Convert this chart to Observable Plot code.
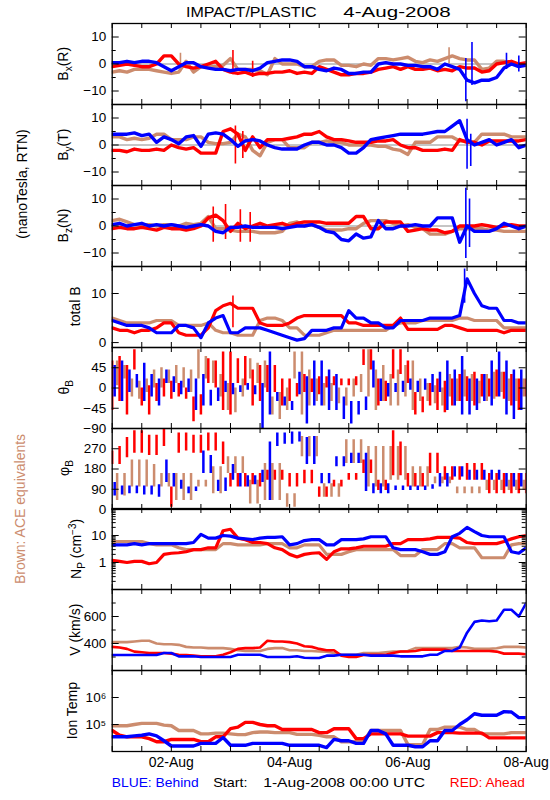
<!DOCTYPE html>
<html><head><meta charset="utf-8">
<script src="https://cdn.jsdelivr.net/npm/d3@7"></script>
<script src="https://cdn.jsdelivr.net/npm/@observablehq/plot@0.6"></script>
<style>
html,body{margin:0;padding:0;background:#fff;}
#root{position:relative;width:550px;height:800px;overflow:hidden;}
.panel{position:absolute;left:0;}
</style></head><body><div id="root"></div>
<script>
// ---- time grid: hours since 1-Aug-2008 00:00 UTC, every 3 h ----
const hours = d3.range(0, 169, 3);

// ---- Bx (R), nT ----
const bxBlue = [0.5,0.5,1,0.5,1,1,0.5,-1, -2.5,-1,0.5,0.5,-1,-1.5,-2,-2, -2.5,-2,-2,-2.5,-1.5,0.5,1,1.5, 1.5,1,-1,-1,-2,-2.5,-1.5,-2, -3.5,-3.5,-3,-3,0,0.5,0,0, -0.5,-0.5,-1,-1,-2,0,-1,-2, -6,-7,-6,-6,-5,-1.5,0,-1, -0.5];
const bxRed = [-1,-0.5,0,-0.5,-1,-1,0,3, 3,0,-1,-1.5,-1,0,1,-2, -3,-3.5,-3,-4,-3.5,-3.5,-3,-3, -2.5,-3.5,-3,-3.5,-1,-2,-3,-4, -4,-3.5,-3.5,-3,-2,-1.5,-1,-2, -1,-2,-2,-1.5,-2.5,-2,-2.5,-1, -1.5,-1.5,-3,-2.5,0,0.5,1,0, 0.5];
const bxBrown = [-3,-2.5,-3,-2,-2,-2,-2.5,-3, -3.5,-3,1,-3,-1,-1,-1,-0.5, 2,-2,-2,-2,-2.5,-4,2,0, 0,0,-1,-1,1,1.5,1.5,-0.5, -0.5,-1,0,-0.5,2,2,1.5,2, 2.5,1,0.5,1.5,1,2,3,2, 1.5,1.5,-2,-1.5,1,1,0,0, -0.5];
const bxSpikeBlue = [[143.5,-14,2],[146,-8,8],[160,-2,4],[165,-3,3]];
const bxSpikeRed = [[49,-4,5],[57,-5,1]];
const bxSpikeBrown = [[27.7,-3,4],[136.7,0,6]];

// ---- By (T), nT ----
const byBlue = [4,4,4,4.5,3.5,4,1,3, 2,0.5,3,3.5,-0.5,4,4.5,4, 2,-0.5,1.5,2,1.5,0,-1,-1.5, -1.5,-1.5,0,1,1,0,0,-1, -3,-3,-1,2,2.5,3,3.5,4, 4,4,4,4.5,5,5,7,9, 2,0,1,2,0,1,2,-1, 0];
const byRed = [-2,-2,-2.5,-1.5,-2,-2,-1.5,-2, 0,-1,-1.5,-1,-3,-3,-3,5, 6,4,-2,3,-1,2,2,2, 2.5,3,4,4,5,3,2,2, 1.5,1,1,1,1.5,1.5,2,0, -1,-1,-2,-2,-2,-1.5,-2,2, 1,1,0,1.5,1.5,1.5,1.5,1.5, 2];
const byBrown = [3,3,2,2.5,2,2.5,4,4, 2,2,2,3,3,1,0.5,0.5, 1,4,3,-2,-4,1,2,2, -1,-1,-1,1,1,1.5,1,1, 0,0,0,0,-0.5,-0.5,-1.5,-2, -3.5,1,1,1,3,3,3,1.5, 1.5,1,4,4,4,4,3,3, 3];
const bySpikeBlue = [[144,-9,9.5],[145.5,-8,4]];
const bySpikeRed = [[50,-7,7],[53,-5,5]];

// ---- Bz (N), nT ----
const bzBlue = [0.5,1,0,0.5,1,0,0.5,0, 0.5,0,-0.5,0,0.5,0,-2,-2.5, -0.5,-0.5,0,-0.5,-0.5,-0.5,-0.5,-1, -0.5,0,0,0.5,-0.5,-2,-2.5,-5, -5.5,-3,-4.5,-4,2,-1,-1,0, 0,0.5,0,0,3,3,3,-6, 0,-2,-2,-2,-1,1,0,-1, 0];
const bzRed = [-1,-0.5,-1,-1,-0.5,-1,-1.5,-0.5, -1,-1,-1.5,-1,0,3,4,2, -2,1,-1,0,1,0,0.5,1, 0,1,1.5,1.5,1.5,1,1,1, 1,3.5,3.5,-1,-1,1.5,1.5,1.5, -2,-1.5,-1,-1.5,-1.5,-2.5,-2,0, 0,0,0.5,0,-0.5,0,0.5,0, 0];
const bzBrown = [2,2.5,1.5,0.5,0.5,0.5,0,0.5, 0.5,0,1,0.5,1,3.5,-1,-1, -1.5,-2,-2,-2,-2.5,-2.5,-2.5,-2, 1,1.5,0,0.5,-0.5,-1.5,-1.5,-1.5, -1,-1,1,2,2,2,1,0, 0.5,-0.5,-1,-3,-3,-3,-2,-1, -1,-1,-1,-1.5,-1.5,-2,-2,-2, -2];
const bzSpikeBlue = [[143.5,-12,14],[145,-8,10]];
const bzSpikeRed = [[41,-6,7],[46,-5,8],[52,-6,6],[56,-6,5]];

// ---- total B, nT ----
const tbBlue = [4.5,4,3.5,3.5,3.5,3,2,2, 2,3.5,3.5,3,1,4,5,5.5, 2,2,3,3,3,2.5,2,1.5, 1,0.5,0.8,2.5,2.5,2.5,3,3, 6.5,5,5,4,4,3,3,4.5, 4.5,4.5,4.5,5,5,5,5,5.5, 13,10,7.5,7,7,4.5,4.5,4, 4];
const tbRed = [3,2.5,2.5,2,2.5,2.5,3,4, 4,2,1.5,1.5,1.5,3,6.5,7.5, 8,7,7,7,4,3.5,3.5,3.5, 4,5,5.5,5.5,5.5,5.5,5.5,5.5, 4,4,3.5,3.5,3.5,3.5,3.5,5, 2.7,2.7,2.7,2.7,2.7,3.5,3.5,3, 2.5,2.5,2.5,2.5,2.5,2,2.5,2.5, 2.5];
const tbBrown = [5,4.5,4,4,4,4,4.5,4.5, 4.5,3.5,3.5,3.5,3.5,4,2.5,2, 2,1.5,1.5,1.5,4.5,5,5,4.5, 3,3,1.5,1.5,1.5,2,2.5,2.5, 2.5,2.5,2.5,2.5,2.5,2.5,3.5,4, 4,4,4.5,4.5,4.5,4.5,4.5,5, 5,4.5,4.5,4.5,4.5,3,3,3, 3];
const tbSpikeBlue = [[143,8,15]];
const tbSpikeRed = [[49,3,9.5]];

// ---- theta_B, deg (low / high of the scatter) ----
const thBlueLo = [-20,-30,-10,0,-30,-20,-40,10, -10,-15,-10,-50,-40,-40,-30,-10, -15,-10,-5,-15,-90,-60,-30,-40, -50,-15,-80,-40,-40,-50,-50,-70, -80,-60,-50,0,-30,-20,-10,-10, -5,-10,-5,-10,-10,-50,-40,-60, -60,-50,-30,-40,-20,-60,-70,-50, -20];
const thBlueHi = [50,60,40,30,55,30,20,40, 25,15,20,20,30,-5,0,15, 10,5,10,5,10,80,-10,-20, -30,35,25,60,60,40,30,-20, -30,-30,-20,60,20,10,10,15, 20,15,20,30,35,60,40,70, 20,20,30,60,80,60,40,40, 30];
const thRedLo = [-50,-30,-60,40,-40,-60,-30,-20, -25,-20,-25,-75,-60,10,0,-50, -60,10,5,-40,-30,-10,-10,-40, -30,-20,-10,-10,-15,0,5,5, 5,5,50,40,-40,-30,20,30, 10,-60,-55,-40,-50,-55,-40,-30, -30,-40,-20,-20,-20,-25,-40,-50, -20];
const thRedHi = [60,70,50,85,0,5,10,20, 15,10,0,-20,-15,65,60,80, 80,65,70,40,50,50,50,20, 20,10,30,20,25,25,25,20, 20,25,85,85,20,15,85,85, 60,-10,-20,10,20,15,20,30, 25,35,30,20,40,35,30,20, 20];
const thBrownLo = [10,5,20,-20,-25,-10,0,0, 10,10,0,-10,20,20,10,-20, -50,-55,-20,20,10,0,-60,-70, -50,20,-60,-40,-30,-40,-30,-35, -40,-20,-10,-20,-50,-30,-40,-40, -20,-50,-30,-30,-35,-40,-20,-30, -20,-30,-35,-30,-25,-10,-30,-30, -20];
const thBrownHi = [55,60,50,20,15,20,40,45, 40,50,45,40,85,70,60,30, 10,0,20,65,55,60,-20,-10, 0,80,80,40,20,10,10,0, 0,20,30,85,40,50,30,40, 50,60,20,10,5,0,30,20, 40,30,15,30,35,35,20,20, 20];

// ---- phi_B, deg (low / high of the scatter) ----
const phBlueLo = [60,65,70,70,65,65,55,120, 100,90,70,80,160,160,80,80, 130,100,100,110,120,40,280,290, 290,300,200,200,115,115,190,190, 205,205,80,70,70,70,85,85, 85,85,85,90,100,100,145,145, 130,130,130,130,130,100,100,100, 100];
const phBlueHi = [120,105,105,105,105,105,110,220, 160,130,100,100,260,240,130,140, 200,160,150,150,175,300,340,340, 345,345,320,325,160,160,235,235, 250,250,250,115,115,115,105,105, 105,105,105,110,160,160,190,190, 175,175,175,175,175,160,160,160, 160];
const phRedLo = [200,200,230,250,250,240,240,280, 10,250,260,250,250,260,260,200, 100,100,100,110,100,130,130,130, 100,100,115,115,55,55,100,100, 130,130,160,160,85,85,150,150, 100,100,100,160,160,130,130,130, 130,130,130,70,70,70,70,70, 70];
const phRedHi = [260,280,320,350,350,330,330,360, 100,340,340,330,330,340,340,300, 160,160,160,160,160,175,175,175, 160,160,175,175,100,100,130,130, 160,160,220,220,130,130,350,300, 160,160,160,250,250,190,190,190, 205,205,205,160,160,160,160,160, 160];
const phBrownLo = [40,40,60,100,100,100,100,100, 100,40,40,40,100,100,70,70, 160,160,160,25,25,40,40,40, 10,10,235,235,235,55,55,55, 205,205,205,100,100,100,130,130, 130,100,100,100,115,115,115,70, 70,70,70,85,85,85,85,85, 85];
const phBrownHi = [160,160,160,220,220,220,200,160, 160,160,160,160,130,130,190,190, 235,235,235,130,130,205,205,205, 70,70,325,325,325,115,115,115, 310,310,310,280,280,280,280,280, 280,190,190,190,145,145,145,100, 100,100,100,130,130,130,130,130, 130];

// ---- Np, cm^-3 ----
const npBlue = [4.5,4.5,4.5,5,4.5,5,5,5, 5,5,5,5.5,11,8,8,10, 9.5,8,7.5,7,8,8.5,8.5,9, 4.5,5,6.5,7,7,4.5,4.5,7, 7,7,7.5,9,9,9,3.5,3, 3,3,2.5,2,2,2.5,9,12, 20,14,10,9,9,9,2.5,2.2, 3.5];
const npRed = [1.2,1.1,1,1.1,1.1,0.9,1,2, 2.2,2.3,2.5,3,3,3.5,3.5,15, 17,8,7,5.5,5.5,5,3.5,3, 2,1.6,2,2.2,2.3,1.3,2.5,3.2, 3.2,3.5,4,4,4,4,5,5, 7,7,7,7.5,8.5,8.5,8.5,8, 5.5,5,5,5,5,6,7.5,9, 10];
const npBrown = [6,6,6,6,6,5,4.5,4.5, 4.5,3.5,3,3,3,3,3,5, 5,4.5,4.5,4.5,4.5,5,5,5, 3.5,3.5,4.5,4.5,4.5,2,2,2, 2.5,3,3,3,3,3,3,1.8, 1.8,1.8,3,3,3,5,5,3.5, 3.5,3.5,1.5,1.5,1.5,1.5,4.5,5, 5];

// ---- V, km/s ----
const vBlue = [315,315,315,315,315,315,315,330, 330,305,305,305,300,300,300,300, 300,317,317,317,317,300,300,300, 300,305,295,293,293,310,310,317, 317,317,317,310,310,310,310,305, 305,305,305,317,317,345,345,370, 480,560,570,565,570,650,650,600, 700];
const vRed = [375,370,360,340,335,330,330,330, 325,317,315,310,305,305,305,317, 335,360,366,366,370,420,415,415, 410,400,380,375,360,350,350,310, 300,300,315,317,317,317,330,341, 341,345,355,355,355,355,345,345, 345,345,345,345,340,325,325,325, 320];
const vBrown = [410,410,410,415,420,420,400,395, 395,390,375,370,370,366,366,366, 360,350,345,345,345,360,366,366, 350,350,345,345,341,340,330,317, 317,317,330,330,330,335,341,341, 345,366,366,366,366,366,366,375, 370,360,360,360,365,375,375,375, 370];

// ---- Ion temperature, K ----
const tBlue = [35000,35000,35000,38000,40000,45000,38000,25000, 16000,16000,16000,16000,20000,20000,20000,33000, 17000,17000,17000,20000,20000,20000,20000,20000, 17000,17000,17000,17000,17000,14000,28000,25000, 25000,20000,20000,60000,60000,45000,17000,17000, 17000,15000,15000,25000,25000,60000,60000,100000, 150000,250000,220000,220000,220000,300000,290000,180000, 180000];
const tRed = [60000,40000,35000,35000,35000,30000,23000,23000, 28000,28000,28000,28000,23000,23000,35000,35000, 70000,80000,120000,120000,100000,90000,90000,65000, 65000,65000,65000,65000,50000,50000,70000,70000, 70000,30000,30000,45000,45000,45000,45000,45000, 37000,37000,37000,37000,50000,50000,50000,48000, 48000,48000,48000,32000,32000,32000,32000,32000, 32000];
const tBrown = [90000,90000,90000,100000,110000,110000,110000,95000, 90000,60000,60000,60000,45000,45000,48000,48000, 45000,42000,42000,50000,53000,53000,50000,50000, 50000,43000,43000,43000,40000,35000,35000,23000, 23000,23000,23000,60000,60000,60000,60000,60000, 18000,18000,18000,65000,65000,80000,80000,80000, 65000,65000,45000,45000,45000,45000,50000,50000, 50000];

// ---- tick values ----
const xTickHours = d3.range(0, 169, 12);
const dateTickHours = [24, 72, 120, 168];
const npMinor = [0.2,0.3,0.4,0.5,0.6,0.7,0.8,0.9,2,3,4,5,6,7,8,9,20,30,40,50,60,70,80,90];

// =================== drawing ===================
const FONT = '"Liberation Sans", Arial, Helvetica, sans-serif';
const COLORS = {blue: "#0000ff", red: "#ff0000", brown: "#cc8c6e"};
const ORDER = ["brown", "red", "blue"];
const DX = {brown: -2.47, red: 0, blue: 2.47};
const T0 = Date.UTC(2008, 7, 1);
const at = h => new Date(T0 + h * 3600000);
const xTicks = xTickHours.map(at);
const dateTicks = dateTickHours.map(at);

const ML = 111.7, MR = 24.3, W = 550, IW = W - ML - MR;
const TOP0 = 23.3, PITCH = 80.85, IH = 81;

const sup = n => String(n).split("").map(c => "⁰¹²³⁴⁵⁶⁷⁸⁹"[+c]).join("");
const PANELS = [
  {lx: 68, label: [["B"], ["x", "sub"], ["(R)"]], y: {domain: [-15, 15]}, major: [-10, 0, 10], minor: [-5, 5], zero: true, sw: 3.4,
   lines: {brown: bxBrown, red: bxRed, blue: bxBlue}, spikes: {brown: bxSpikeBrown, red: bxSpikeRed, blue: bxSpikeBlue}},
  {lx: 68, label: [["B"], ["y", "sub"], ["(T)"]], y: {domain: [-15, 15]}, major: [-10, 0, 10], minor: [-5, 5], zero: true, sw: 3.4,
   lines: {brown: byBrown, red: byRed, blue: byBlue}, spikes: {red: bySpikeRed, blue: bySpikeBlue}},
  {lx: 68, label: [["B"], ["z", "sub"], ["(N)"]], y: {domain: [-15, 15]}, major: [-10, 0, 10], minor: [-5, 5], zero: true, sw: 3.4,
   lines: {brown: bzBrown, red: bzRed, blue: bzBlue}, spikes: {red: bzSpikeRed, blue: bzSpikeBlue}},
  {lx: 80, label: [["total B"]], y: {domain: [-1, 15.5]}, major: [0, 10], minor: [], sw: 3.2,
   lines: {brown: tbBrown, red: tbRed, blue: tbBlue}, spikes: {red: tbSpikeRed, blue: tbSpikeBlue}},
  {lx: 69, label: [["θ"], ["B", "sub"]], y: {domain: [-90, 90]}, major: [-90, -45, 0, 45], minor: [],
   bands: {brown: [thBrownLo, thBrownHi], red: [thRedLo, thRedHi], blue: [thBlueLo, thBlueHi]}},
  {lx: 69, label: [["φ"], ["B", "sub"]], y: {domain: [0, 360]}, major: [0, 90, 180, 270], minor: [],
   bands: {brown: [phBrownLo, phBrownHi], red: [phRedLo, phRedHi], blue: [phBlueLo, phBlueHi]}},
  {lx: 81, label: [["N"], ["P", "sub"], [" (cm"], ["−3", "sup"], [")"]], y: {type: "log", domain: [0.1, 100]}, major: [1, 10], minor: npMinor,
   fmt: d => String(d), sw: 3.2, lines: {brown: npBrown, red: npRed, blue: npBlue}},
  {lx: 80, label: [["V (km/s)"]], y: {domain: [200, 800]}, major: [400, 600], minor: [300, 500, 700], sw: 2.6,
   lines: {brown: vBrown, red: vRed, blue: vBlue}},
  {lx: 77, label: [["Ion Temp"]], y: {type: "log", domain: [1e4, 1e7]}, major: [1e5, 1e6], minor: [], sw: 3.4,
   fmt: d => "10" + sup(Math.round(Math.log10(d))), lines: {brown: tBrown, red: tRed, blue: tBlue}}
];

function seriesMarks(p) {
  const m = [];
  for (const k of ORDER) {
    if (p.lines) m.push(Plot.line(hours.map((h, i) => ({t: at(h), v: p.lines[k][i]})),
      {x: "t", y: "v", stroke: COLORS[k], strokeWidth: p.sw || 3, strokeLinejoin: "round", clip: true}));
    if (p.bands) m.push(Plot.ruleX(hours.map((h, i) => ({t: at(h), lo: p.bands[k][0][i], hi: p.bands[k][1][i]})),
      {x: "t", y1: "lo", y2: "hi", stroke: COLORS[k], strokeWidth: 2.5, dx: DX[k], clip: true}));
    if (p.spikes && p.spikes[k]) m.push(Plot.ruleX(p.spikes[k].map(([h, lo, hi]) => ({t: at(h), lo, hi})),
      {x: "t", y1: "lo", y2: "hi", stroke: COLORS[k], strokeWidth: 1.6, clip: true}));
  }
  return m;
}

const root = document.getElementById("root");
PANELS.forEach((p, i) => {
  const last = i === PANELS.length - 1;
  const extra = last ? 28 : 0;
  const marks = [];
  if (p.zero) marks.push(Plot.ruleY([0], {stroke: "#8c8c8c", strokeWidth: 1}));
  marks.push(...seriesMarks(p));
  marks.push(
    Plot.tickX(xTicks, {x: d => d, insetBottom: IH - 5, stroke: "black", strokeWidth: 1}),
    Plot.tickX(xTicks, {x: d => d, insetTop: IH - 5, stroke: "black", strokeWidth: 1}),
    Plot.tickY(p.major, {y: d => d, insetRight: IW - 7, stroke: "black", strokeWidth: 1}),
    Plot.tickY(p.major, {y: d => d, insetLeft: IW - 7, stroke: "black", strokeWidth: 1}),
    Plot.tickY(p.minor, {y: d => d, insetRight: IW - 4, stroke: "black", strokeWidth: 1}),
    Plot.tickY(p.minor, {y: d => d, insetLeft: IW - 4, stroke: "black", strokeWidth: 1}),
    Plot.axisY({ticks: p.major, tickSize: 0, tickPadding: 6, label: null, fontSize: 13.5,
      ...(p.fmt ? {tickFormat: p.fmt} : {})}),
    Plot.frame({stroke: "black", strokeWidth: 1.3})
  );
  if (last) marks.push(Plot.axisX({ticks: dateTicks, tickSize: 0, tickPadding: 6, label: null, fontSize: 14,
    tickFormat: d3.utcFormat("%d-%b")}));
  const svg = Plot.plot({
    width: W, height: IH + 2 + extra,
    marginLeft: ML, marginRight: MR, marginTop: 1, marginBottom: 1 + extra,
    x: {type: "utc", domain: [at(0), at(168)], ...(last ? {} : {axis: null})},
    y: {...p.y},
    style: {fontFamily: FONT, fontSize: "13.5px", color: "black", background: "transparent", overflow: "visible"},
    marks
  });
  const div = document.createElement("div");
  div.className = "panel";
  div.style.top = (TOP0 + PITCH * i - 1) + "px";
  div.appendChild(svg);
  root.appendChild(div);
});

// ---- overlay texts ----
const ov = d3.select(root).append("svg")
  .attr("width", 550).attr("height", 800)
  .style("position", "absolute").style("left", "0px").style("top", "0px")
  .style("pointer-events", "none")
  .attr("font-family", FONT).attr("fill", "black");

ov.append("text").attr("x", 186).attr("y", 16.7).attr("font-size", 15.5)
  .attr("textLength", 130.7).attr("lengthAdjust", "spacingAndGlyphs").text("IMPACT/PLASTIC");
ov.append("text").attr("x", 343.3).attr("y", 16.7).attr("font-size", 15.5)
  .attr("textLength", 107.4).attr("lengthAdjust", "spacingAndGlyphs").text("4-Aug-2008");

PANELS.forEach((p, i) => {
  const cy = TOP0 + PITCH * i + IH / 2;
  const t = ov.append("text").attr("transform", `translate(${p.lx},${cy}) rotate(-90)`)
    .attr("text-anchor", "middle").attr("font-size", 14);
  let shift = 0;
  p.label.forEach(([s, kind]) => {
    const ts = t.append("tspan").text(s);
    let target = kind === "sub" ? 4 : kind === "sup" ? -5 : 0;
    if (target !== shift) { ts.attr("dy", target - shift); shift = target; }
    if (kind) ts.attr("font-size", 10);
  });
});

ov.append("text").attr("transform", "translate(27,184) rotate(-90)").attr("text-anchor", "middle")
  .attr("font-size", 14).text("(nanoTesla, RTN)");
ov.append("text").attr("transform", "translate(25,509) rotate(-90)").attr("text-anchor", "middle")
  .attr("font-size", 14).attr("fill", COLORS.brown).text("Brown: ACE equivalents");

const bottom = [
  {s: "BLUE: Behind", x: 111.7, w: 87, c: COLORS.blue},
  {s: "Start:", x: 213.2, w: 34.3, c: "black"},
  {s: "1-Aug-2008 00:00 UTC", x: 263.2, w: 162, c: "black"},
  {s: "RED: Ahead", x: 449.8, w: 75, c: COLORS.red}
];
bottom.forEach(b => ov.append("text").attr("x", b.x).attr("y", 787).attr("font-size", 13.5)
  .attr("fill", b.c).attr("textLength", b.w).attr("lengthAdjust", "spacingAndGlyphs").text(b.s));
</script>
</body></html>
